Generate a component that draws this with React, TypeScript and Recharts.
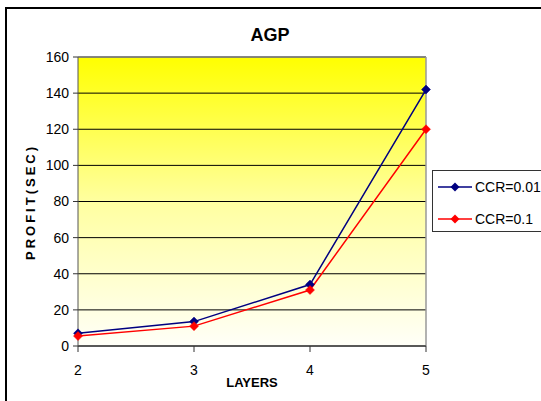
import React from "react";
import {
  LineChart,
  Line,
  XAxis,
  YAxis,
  CartesianGrid,
  ReferenceLine,
} from "recharts";

const layers = [2, 3, 4, 5];
const ccr001 = [7, 13.5, 34, 142];
const ccr01 = [5.5, 11, 31, 120];
const yTicks = [0, 20, 40, 60, 80, 100, 120, 140, 160];

const seriesNames = { a: "CCR=0.01", b: "CCR=0.1" };
const colors = { a: "#000080", b: "#ff0000" };

const data = layers.map((l, i) => ({ layer: l, a: ccr001[i], b: ccr01[i] }));

const FONT = "'Liberation Sans', Arial, sans-serif";

function Diamond(props: any) {
  const { cx, cy, fill } = props;
  if (cx == null || cy == null) return null;
  const r = 4.5;
  return (
    <polygon
      points={`${cx},${cy - r} ${cx + r},${cy} ${cx},${cy + r} ${cx - r},${cy}`}
      fill={fill}
      stroke={fill}
      strokeWidth={0.5}
    />
  );
}

function LegendBox() {
  const rows = [
    { key: "a", name: seriesNames.a, color: colors.a },
    { key: "b", name: seriesNames.b, color: colors.b },
  ];
  return (
    <div
      style={{
        position: "absolute",
        left: 432,
        top: 170,
        border: "1px solid #333",
        background: "#fff",
        width: 130,
        height: 62,
        boxSizing: "border-box",
        paddingTop: 4,
        fontFamily: FONT,
        fontSize: 14,
      }}
    >
      {rows.map((r) => (
        <div key={r.key} style={{ display: "flex", alignItems: "center", height: 24, marginTop: r.key === "b" ? 8 : 0 }}>
          <svg width={38} height={12} style={{ marginLeft: 3 }}>
            <line x1={2} y1={6} x2={36} y2={6} stroke={r.color} strokeWidth={1.5} />
            <polygon points="19,1.5 23.5,6 19,10.5 14.5,6" fill={r.color} />
          </svg>
          <span style={{ marginLeft: 1, color: "#000" }}>{r.name}</span>
        </div>
      ))}
    </div>
  );
}

export default function App() {
  return (
    <div style={{ position: "absolute", left: 0, top: 0, width: 541, height: 401, background: "#fff", overflow: "hidden" }}>
      <div
        style={{
          position: "absolute",
          left: 5,
          top: 7,
          width: 560,
          height: 420,
          border: "2px solid #000",
          boxSizing: "border-box",
        }}
      />
      <div
        style={{
          position: "absolute",
          left: 220,
          width: 100,
          top: 25,
          textAlign: "center",
          fontFamily: FONT,
          fontWeight: "bold",
          fontSize: 18,
        }}
      >
        AGP
      </div>
      <div
        style={{
          position: "absolute",
          left: 30,
          top: 202,
          transform: "translate(-50%, -50%) rotate(-90deg)",
          fontFamily: FONT,
          fontWeight: "bold",
          fontSize: 13,
          letterSpacing: 3,
          whiteSpace: "nowrap",
        }}
      >
        PROFIT(SEC)
      </div>
      <div
        style={{
          position: "absolute",
          left: 202,
          width: 100,
          top: 375,
          textAlign: "center",
          fontFamily: FONT,
          fontWeight: "bold",
          fontSize: 13,
        }}
      >
        LAYERS
      </div>
      <div style={{ position: "absolute", left: 0, top: 0 }}>
        <LineChart width={541} height={401} data={data} margin={{ top: 57, right: 115, bottom: 0, left: 38 }}>
          <defs>
            <linearGradient id="plotBg" x1="0" y1="0" x2="0" y2="1">
              <stop offset="0%" stopColor="#ffff00" />
              <stop offset="50%" stopColor="#ffffa0" />
              <stop offset="100%" stopColor="#fffff8" />
            </linearGradient>
          </defs>
          <CartesianGrid vertical={false} horizontal={true} stroke="#000" strokeWidth={1} fill="url(#plotBg)" fillOpacity={1} />
          <XAxis
            dataKey="layer"
            type="number"
            domain={[2, 5]}
            ticks={layers}
            height={55}
            stroke="#333"
            tickSize={6}
            tick={{ fill: "#000", fontSize: 14, fontFamily: FONT, dy: 11 }}
            tickLine={{ stroke: "#333" }}
          />
          <YAxis
            domain={[0, 160]}
            ticks={yTicks}
            width={40}
            stroke="#555"
            tickSize={5}
            tick={{ fill: "#000", fontSize: 14, fontFamily: FONT, dx: -2 }}
            tickLine={{ stroke: "#333" }}
          />
          <ReferenceLine y={160} stroke="#888" strokeWidth={1.5} />
          <ReferenceLine x={5} stroke="#999" strokeWidth={1.5} />
          <Line
            type="linear"
            dataKey="a"
            name={seriesNames.a}
            stroke={colors.a}
            strokeWidth={1.5}
            dot={<Diamond fill={colors.a} />}
            activeDot={false}
            isAnimationActive={false}
          />
          <Line
            type="linear"
            dataKey="b"
            name={seriesNames.b}
            stroke={colors.b}
            strokeWidth={1.5}
            dot={<Diamond fill={colors.b} />}
            activeDot={false}
            isAnimationActive={false}
          />
        </LineChart>
      </div>
      <LegendBox />
    </div>
  );
}
